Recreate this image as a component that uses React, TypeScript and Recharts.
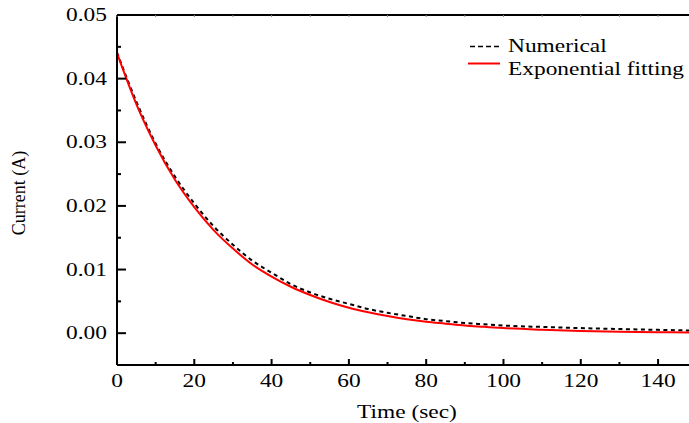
import React from "react";
import { LineChart, Line, XAxis, YAxis, Customized } from "recharts";

const timeSec = [0, 5, 10, 15, 20, 25, 30, 35, 40, 45, 50, 55, 60, 65, 70, 75, 80, 85, 90, 95, 100, 110, 120, 130, 140, 148];
const numerical = [0.0441, 0.0364, 0.0298, 0.0246, 0.0204, 0.0168, 0.0139, 0.0114, 0.0095, 0.0077, 0.0064, 0.0054, 0.0046, 0.0038, 0.0032, 0.0027, 0.0022, 0.0019, 0.0016, 0.0014, 0.0012, 0.00098, 0.0008, 0.00065, 0.00052, 0.00043];
const expFit = [0.044, 0.036, 0.0295, 0.0241, 0.0198, 0.0162, 0.0133, 0.0108, 0.0089, 0.0073, 0.006, 0.0049, 0.004, 0.0033, 0.0027, 0.0022, 0.0018, 0.0015, 0.0012, 0.001, 0.0008, 0.00054, 0.00036, 0.00024, 0.00016, 0.00011];

const xMajorTicks = [0, 20, 40, 60, 80, 100, 120, 140];
const xMinorTicks = [10, 30, 50, 70, 90, 110, 130];
const xTickLabels = ["0", "20", "40", "60", "80", "100", "120", "140"];
const yMajorTicks = [0, 0.01, 0.02, 0.03, 0.04, 0.05];
const yMinorTicks = [0.005, 0.015, 0.025, 0.035, 0.045];
const yTickLabels = ["0.00", "0.01", "0.02", "0.03", "0.04", "0.05"];

const seriesNames = ["Numerical", "Exponential fitting"];
const xTitle = "Time (sec)";
const yTitle = "Current (A)";

const data = timeSec.map((t, i) => ({ t, num: numerical[i], fit: expFit[i] }));

const FONT = "'Liberation Serif', 'Times New Roman', serif";
const SX = 1.3;

const near = (a: number, b: number) => Math.abs(a - b) < 1e-9;

const XTick = (props: any) => {
  const { x, y, payload } = props;
  const idx = xMajorTicks.findIndex((v) => near(v, payload.value));
  const major = idx >= 0;
  return (
    <g>
      <line x1={x} x2={x} y1={y} y2={y - (major ? 6 : 3)} stroke="#000" strokeWidth={2} />
      {major && (
        <text transform={`translate(${x},${y + 22}) scale(${SX},1)`} textAnchor="middle" fontFamily={FONT} fontSize={18} fill="#000">
          {xTickLabels[idx]}
        </text>
      )}
    </g>
  );
};

const TopTick = (props: any) => {
  const { x, y } = props;
  return <line x1={x} x2={x} y1={y} y2={y + 2} stroke="#888" strokeWidth={1} />;
};

const YTick = (props: any) => {
  const { x, y, payload } = props;
  const idx = yMajorTicks.findIndex((v) => near(v, payload.value));
  const major = idx >= 0;
  return (
    <g>
      <line x1={x} x2={x + (major ? 9 : 4)} y1={y} y2={y} stroke="#000" strokeWidth={2} />
      {major && (
        <text transform={`translate(${x - 10},${y + 6}) scale(${SX},1)`} textAnchor="end" fontFamily={FONT} fontSize={18} fill="#000">
          {yTickLabels[idx]}
        </text>
      )}
    </g>
  );
};

const Decorations = () => (
  <g>
    <text transform={`translate(407,418) scale(${SX},1)`} textAnchor="middle" fontFamily={FONT} fontSize={18} fill="#000">
      {xTitle}
    </text>
    <text transform="translate(25,193) rotate(-90)" textAnchor="middle" fontFamily={FONT} fontSize={18} fill="#000">
      {yTitle}
    </text>
    <line x1={470} x2={500} y1={46.5} y2={46.5} stroke="#000" strokeWidth={1.5} strokeDasharray="5 3" />
    <text transform={`translate(508,52) scale(${SX},1)`} fontFamily={FONT} fontSize={18} fill="#000">
      {seriesNames[0]}
    </text>
    <line x1={468} x2={500} y1={63.5} y2={63.5} stroke="#ff0000" strokeWidth={2} />
    <text transform={`translate(508,75) scale(${SX},1)`} fontFamily={FONT} fontSize={18} fill="#000">
      {seriesNames[1]}
    </text>
  </g>
);

const allXTicks = [...xMajorTicks, ...xMinorTicks].sort((a, b) => a - b);
const allYTicks = [...yMajorTicks, ...yMinorTicks].sort((a, b) => a - b);

export default function App() {
  return (
    <div style={{ position: "absolute", left: 0, top: 0, width: 689, height: 423, background: "#fff" }}>
      <LineChart width={689} height={423} data={data} margin={{ top: 14, right: 0, bottom: 57, left: 116 }}>
        <XAxis
          xAxisId="bottom"
          dataKey="t"
          type="number"
          domain={[0, 148]}
          allowDataOverflow
          ticks={allXTicks}
          interval={0}
          height={1}
          tickSize={0}
          tickMargin={0}
          tickLine={false}
          axisLine={{ stroke: "#000", strokeWidth: 2 }}
          tick={<XTick />}
        />
        <XAxis
          xAxisId="top"
          orientation="top"
          dataKey="t"
          type="number"
          domain={[0, 148]}
          allowDataOverflow
          ticks={allXTicks}
          interval={0}
          height={1}
          tickSize={0}
          tickMargin={0}
          tickLine={false}
          axisLine={{ stroke: "#000", strokeWidth: 2 }}
          tick={<TopTick />}
        />
        <YAxis
          type="number"
          domain={[-0.005, 0.05]}
          allowDataOverflow
          ticks={allYTicks}
          interval={0}
          width={1}
          tickSize={0}
          tickMargin={0}
          tickLine={false}
          axisLine={{ stroke: "#000", strokeWidth: 2 }}
          tick={<YTick />}
        />
        <Line
          xAxisId="bottom"
          type="monotone"
          dataKey="num"
          stroke="#000"
          strokeWidth={2}
          strokeDasharray="4 3.5"
          dot={false}
          isAnimationActive={false}
        />
        <Line
          xAxisId="bottom"
          type="monotone"
          dataKey="fit"
          stroke="#ff0000"
          strokeWidth={2}
          dot={false}
          isAnimationActive={false}
        />
        <Customized component={Decorations} />
      </LineChart>
    </div>
  );
}
